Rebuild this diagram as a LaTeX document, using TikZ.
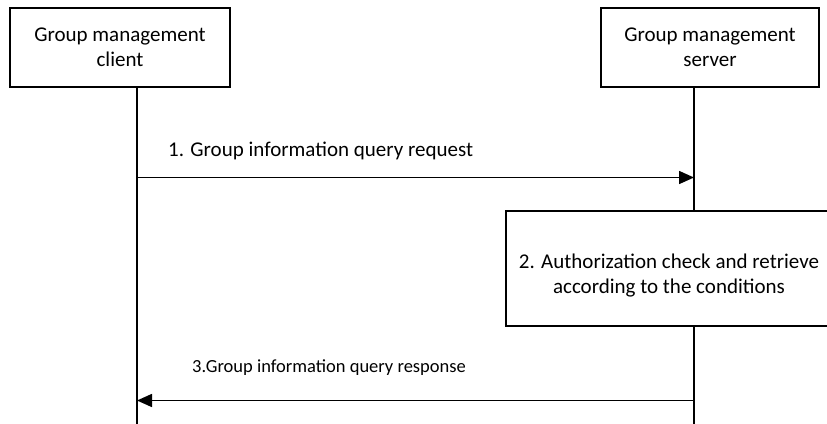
\documentclass[tikz,border=0pt]{standalone}
\usepackage{fontspec}
\setmainfont{Carlito}
\usetikzlibrary{arrows.meta}
\tikzset{
  actor/.style={draw, line width=1.6pt, minimum width=220pt, minimum height=79pt, align=center, inner sep=0pt, font=\fontsize{21}{25}\selectfont},
  life/.style={line width=1.6pt},
  msg/.style={line width=1.6pt, -{Triangle[length=15pt,width=13pt]}},
  lbl/.style={font=\fontsize{21}{25}\selectfont, inner sep=0pt},
  proc/.style={draw, line width=1.6pt, fill=white, minimum width=328pt, minimum height=115pt, inner sep=0pt}
}
\begin{document}
\begin{tikzpicture}[x=1pt,y=-1pt]
\useasboundingbox (0,0) rectangle (827,423);
\clip (0,0) rectangle (827,423);
\node[actor] (client) at (120,47.5) {Group management\\client};
\node[actor, minimum width=218pt] (server) at (710,47.5) {Group management\\server};
\coordinate (cbot) at (137,430);
\coordinate (sbot) at (694,430);
\coordinate (c1) at (137,177.5);
\coordinate (s1) at (694,177.5);
\coordinate (c3) at (137,400.5);
\coordinate (s3) at (694,400.5);
\draw[life] (client.south -| cbot) -- (cbot);
\node[proc] (auth) at (670,268.5) {};
\draw[life] (server.south -| sbot) -- (auth.north -| sbot);
\draw[life] (auth.south -| sbot) -- (sbot);
\node[lbl, align=center] (authtxt) at (669,276) {2. Authorization check and retrieve\\according to the conditions};
\draw[msg] (c1) -- (s1);
\node[lbl, anchor=west] (m1) at (168,151) {1. Group information query request};
\draw[msg] (s3) -- (c3);
\node[lbl, anchor=west, font=\fontsize{18.5}{22}\selectfont] (m3) at (192,368) {3.Group information query response};
\end{tikzpicture}
\end{document}
